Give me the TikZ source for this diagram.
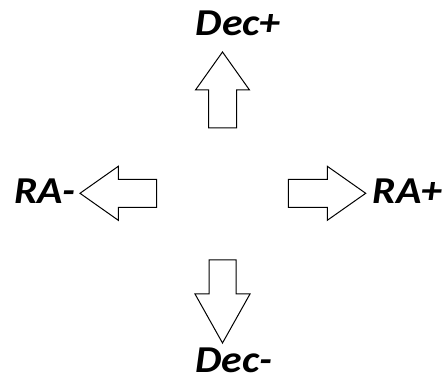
\documentclass[tikz,border=0pt]{standalone}
\usepackage{fontspec}
\newfontfamily\dirfont{Carlito}[FakeStretch=1.1]
\usetikzlibrary{calc}
\tikzset{
  blockarrow/.style={draw=black,line width=1pt,fill=white,line join=miter},
  dirlabel/.style={font=\dirfont\fontsize{38}{42}\selectfont\bfseries\itshape,inner sep=0pt,anchor=base west}
}

\begin{document}
\begin{tikzpicture}[x=1pt,y=1pt]
\useasboundingbox (0,0) rectangle (442,379);
\coordinate (N) at (222.5,251);
\coordinate (S) at (222.5,119);
\coordinate (W) at (156.7,185.7);
\coordinate (E) at (288.3,185.7);
% up
\draw[blockarrow] ($(N)+(-14,0)$) -- ++(28,0) -- ++(0,38) -- ++(13,0) -- ($(N)+(0,76)$)
  -- ($(N)+(-27,38)$) -- ++(13,0) -- cycle;
% down
\draw[blockarrow] ($(S)+(-13.5,0)$) -- ++(27,0) -- ++(0,-34) -- ++(14,0) -- ($(S)+(0,-83)$)
  -- ($(S)+(-27.5,-34)$) -- ++(14,0) -- cycle;
% left
\draw[blockarrow] ($(W)+(0,14)$) -- ++(-38.4,0) -- ++(0,13) -- ($(W)+(-76.7,0)$)
  -- ($(W)+(-38.4,-27)$) -- ++(0,13) -- ($(W)+(0,-14)$) -- cycle;
% right
\draw[blockarrow] ($(E)+(0,14)$) -- ++(39,0) -- ++(0,13) -- ($(E)+(77.4,0)$)
  -- ($(E)+(39,-27)$) -- ++(0,13) -- ($(E)+(0,-14)$) -- cycle;
\node[dirlabel] (decplus) at (195.5,343.5) {Dec+};
\node[dirlabel] (decminus) at (195,6) {Dec-};
\node[dirlabel] (raminus) at (14,175) {RA-};
\node[dirlabel] (raplus) at (372.5,175.5) {RA+};
\end{tikzpicture}
\end{document}
